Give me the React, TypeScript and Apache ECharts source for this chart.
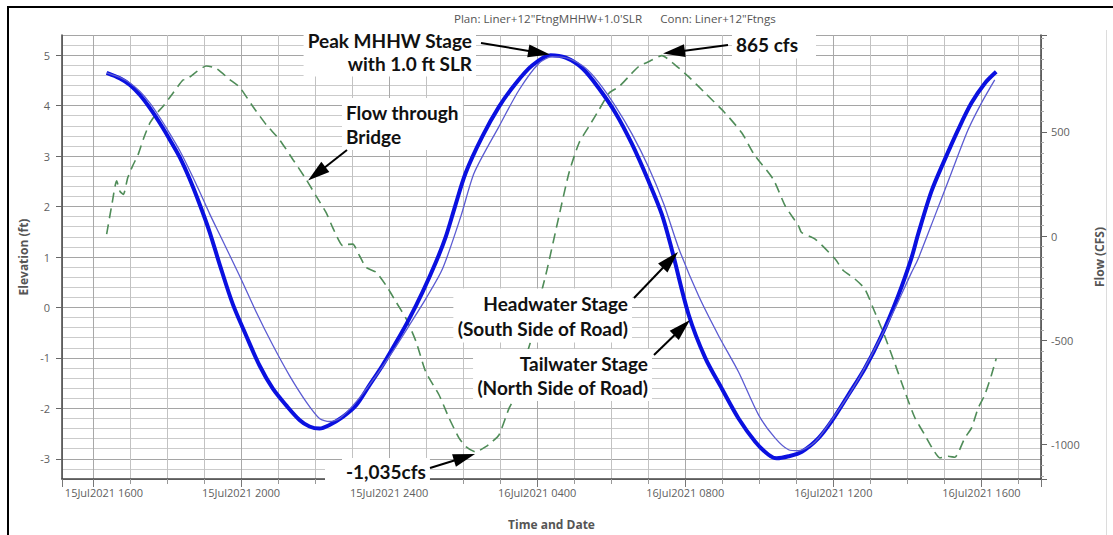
import React, { useEffect, useRef } from "react";
import * as echarts from "echarts";

// ---- Data (hours since 15Jul2021 00:00) ----
const timeTickHours = [16, 20, 24, 28, 32, 36, 40];
const timeTickLabels = [
  "15Jul2021 1600",
  "15Jul2021 2000",
  "15Jul2021 2400",
  "16Jul2021 0400",
  "16Jul2021 0800",
  "16Jul2021 1200",
  "16Jul2021 1600",
];
const elevationTicks = [-3, -2, -1, 0, 1, 2, 3, 4, 5];
const flowTicks = [-1000, -500, 0, 500];

// Tailwater stage (North side of road), ft
const tailwaterStage: [number, number][] = [
  [16.37, 4.65], [16.73, 4.54], [17.0, 4.41], [17.27, 4.21], [17.54, 3.95], [17.81, 3.65],
  [18.08, 3.32], [18.35, 2.97], [18.61, 2.55], [18.88, 2.05], [19.15, 1.5], [19.42, 0.86],
  [19.78, 0.06], [20.14, -0.56], [20.5, -1.15], [20.86, -1.61], [21.22, -1.94], [21.58, -2.23],
  [21.85, -2.36], [22.12, -2.4], [22.39, -2.33], [22.75, -2.17], [23.11, -1.94], [23.47, -1.54],
  [23.82, -1.15], [24.19, -0.69], [24.54, -0.23], [24.9, 0.3], [25.26, 0.89], [25.53, 1.4],
  [25.78, 2.0], [26.07, 2.67], [26.52, 3.39], [26.97, 3.98], [27.42, 4.44], [27.87, 4.8],
  [28.36, 5.0], [28.77, 4.95], [29.22, 4.74], [29.67, 4.34], [30.12, 3.85], [30.56, 3.24],
  [31.01, 2.5], [31.37, 1.84], [31.64, 1.14], [32.09, -0.14], [32.54, -1.0], [32.99, -1.61],
  [33.44, -2.2], [33.89, -2.66], [34.25, -2.92], [34.47, -2.99], [34.79, -2.95], [35.15, -2.86],
  [35.6, -2.59], [35.95, -2.26], [36.4, -1.74], [36.85, -1.21], [37.3, -0.56], [37.75, 0.23],
  [38.11, 0.98], [38.29, 1.45], [38.65, 2.3], [39.01, 2.93], [39.37, 3.52], [39.73, 4.05],
  [40.09, 4.44], [40.4, 4.67],
];

// Headwater stage (South side of road), ft
const headwaterStage: [number, number][] = [
  [16.37, 4.65], [16.73, 4.56], [17.0, 4.45], [17.27, 4.28], [17.54, 4.05], [17.81, 3.76],
  [18.08, 3.44], [18.35, 3.1], [18.61, 2.72], [18.88, 2.3], [19.15, 1.86], [19.42, 1.45],
  [19.96, 0.63], [20.41, -0.09], [20.86, -0.75], [21.31, -1.35], [21.76, -1.87], [22.12, -2.2],
  [22.39, -2.26], [22.66, -2.2], [23.11, -1.87], [23.65, -1.35], [24.09, -0.88], [24.54, -0.36],
  [24.99, 0.17], [25.44, 0.76], [25.94, 1.81], [26.3, 2.67], [26.97, 3.59], [27.51, 4.31],
  [28.05, 4.84], [28.41, 4.97], [28.86, 4.93], [29.31, 4.74], [29.67, 4.45], [30.12, 3.98],
  [30.56, 3.44], [31.01, 2.78], [31.42, 2.05], [31.82, 1.18], [32.36, 0.23], [32.9, -0.56],
  [33.44, -1.28], [33.98, -2.13], [34.43, -2.59], [34.79, -2.82], [35.06, -2.84], [35.51, -2.66],
  [36.05, -2.13], [36.58, -1.54], [37.12, -0.82], [37.66, -0.03], [38.11, 0.69], [38.29, 0.96],
  [38.74, 1.81], [39.19, 2.67], [39.64, 3.52], [40.0, 4.05], [40.36, 4.51],
];

// Flow through bridge, cfs
const bridgeFlow: [number, number][] = [
  [16.37, 10], [16.51, 150], [16.64, 265], [16.73, 215], [16.82, 200], [16.94, 280],
  [17.08, 340], [17.22, 391], [17.37, 470], [17.54, 543], [17.7, 585], [17.89, 622],
  [18.16, 686], [18.43, 749], [18.53, 752], [18.8, 789], [19.06, 816], [19.33, 805],
  [19.69, 752], [19.96, 715], [20.32, 622], [20.68, 535], [21.04, 463], [21.4, 368],
  [21.76, 272], [22.03, 192], [22.3, 113], [22.48, 40], [22.75, -46], [22.87, -40],
  [23.02, -38], [23.2, -94], [23.38, -150], [23.65, -173], [23.92, -237], [24.19, -316],
  [24.46, -396], [24.73, -507], [24.99, -651], [25.35, -762], [25.62, -873], [25.89, -969],
  [26.07, -1009], [26.34, -1035], [26.61, -1010], [26.79, -985], [26.97, -953], [27.24, -826],
  [27.42, -762], [27.6, -635], [27.87, -476], [28.05, -316], [28.27, -158], [28.59, 97],
  [28.86, 304], [29.13, 447], [29.4, 527], [29.67, 606], [29.94, 686], [30.21, 717],
  [30.47, 765], [30.74, 813], [31.1, 845], [31.37, 866], [31.73, 821], [32.09, 765],
  [32.54, 686], [33.08, 590], [33.53, 495], [33.85, 395], [34.38, 272], [34.7, 145],
  [35.06, 49], [35.14, 18], [35.51, -14], [36.05, -110], [36.27, -165], [36.58, -205],
  [36.85, -253], [37.12, -364], [37.39, -480], [37.66, -610], [37.93, -745], [38.2, -870],
  [38.47, -953], [38.7, -1025], [38.88, -1064], [39.1, -1056], [39.28, -1061], [39.55, -969],
  [39.73, -921], [39.91, -826], [40.09, -762], [40.27, -667], [40.4, -587],
];

const TICK_FONT = '"Open Sans", "Noto Sans", sans-serif';
const NOTE_FONT = 'bold 19px Lato, "Open Sans", sans-serif';

function arrow(x1: number, y1: number, x2: number, y2: number, headLen = 22, headW = 13) {
  const dx = x2 - x1;
  const dy = y2 - y1;
  const L = Math.hypot(dx, dy);
  const ux = dx / L;
  const uy = dy / L;
  const bx = x2 - ux * headLen;
  const by = y2 - uy * headLen;
  const px = -uy;
  const py = ux;
  return [
    {
      type: "line",
      z: 100,
      shape: { x1, y1, x2: bx + ux * 2, y2: by + uy * 2 },
      style: { stroke: "#000", lineWidth: 2 },
    },
    {
      type: "polygon",
      z: 100,
      shape: {
        points: [
          [x2, y2],
          [bx + (px * headW) / 2, by + (py * headW) / 2],
          [bx - (px * headW) / 2, by - (py * headW) / 2],
        ],
      },
      style: { fill: "#000" },
    },
  ];
}

function note(text: string, x: number, y: number, align: string, lineHeight = 24, pad: number[] = [2, 4]) {
  return {
    type: "text",
    z: 99,
    style: {
      text,
      x,
      y,
      font: NOTE_FONT,
      fill: "#111",
      textAlign: align,
      textVerticalAlign: "middle",
      lineHeight,
      backgroundColor: "#fff",
      padding: pad,
    },
  };
}

export default function App() {
  const ref = useRef<HTMLDivElement>(null);

  useEffect(() => {
    if (!ref.current) return;
    const chart = echarts.init(ref.current, undefined, { renderer: "svg" });

    const axisLabelBase = { color: "#5f5f5f", fontSize: 11, fontFamily: TICK_FONT };
    const axisNameBase = { color: "#555", fontSize: 12, fontWeight: "bold" as const, fontFamily: TICK_FONT };

    chart.setOption({
      animation: false,
      backgroundColor: "transparent",
      grid: { left: 62, right: 70, top: 35, bottom: 53, containLabel: false },
      xAxis: {
        type: "value",
        min: 15.164,
        max: 41.61,
        minInterval: 4,
        maxInterval: 4,
        axisLine: { show: true, onZero: false, lineStyle: { color: "#444", width: 1.5 } },
        axisTick: { show: true, length: 8, lineStyle: { color: "#777" } },
        minorTick: { show: true, splitNumber: 4, length: 5, lineStyle: { color: "#999" } },
        splitLine: { show: true, lineStyle: { color: "#a9a9a9", width: 1 } },
        minorSplitLine: { show: true, lineStyle: { color: "#c2c2c2", width: 1 } },
        axisLabel: {
          ...axisLabelBase,
          margin: 8,
          showMinLabel: false,
          showMaxLabel: false,
          rich: { first: { ...axisLabelBase, padding: [0, 0, 0, 22] } },
          formatter: (v: number) => {
            const i = timeTickHours.indexOf(Math.round(v * 1000) / 1000);
            if (i < 0) return "";
            return i === 0 ? `{first|${timeTickLabels[i]}}` : timeTickLabels[i];
          },
        },
        name: "Time and Date",
        nameLocation: "middle",
        nameGap: 39,
        nameTextStyle: axisNameBase,
      },
      yAxis: [
        {
          type: "value",
          position: "left",
          min: -3.4,
          max: 5.4,
          minInterval: 1,
          maxInterval: 1,
          axisLine: { show: true, lineStyle: { color: "#444", width: 1.5 } },
          axisTick: { show: true, length: 6, lineStyle: { color: "#666" } },
          minorTick: { show: false, splitNumber: 5 },
          splitLine: { show: true, lineStyle: { color: "#a5a5a5", width: 1 } },
          minorSplitLine: { show: true, lineStyle: { color: "#cbcbcb", width: 1 } },
          axisLabel: {
            ...axisLabelBase,
            margin: 12,
            showMinLabel: false,
            showMaxLabel: false,
            formatter: (v: number) => {
              const r = Math.round(v * 1000) / 1000;
              return elevationTicks.indexOf(r) >= 0 ? String(r) : "";
            },
          },
          name: "Elevation (ft)",
          nameLocation: "middle",
          nameRotate: 90,
          nameGap: 26,
          nameTextStyle: axisNameBase,
        },
        {
          type: "value",
          position: "right",
          min: -1165,
          max: 965,
          minInterval: 500,
          maxInterval: 500,
          axisLine: { show: true, lineStyle: { color: "#444", width: 1.5 } },
          axisTick: { show: true, length: 6, lineStyle: { color: "#666" } },
          minorTick: { show: true, splitNumber: 10, length: 3, lineStyle: { color: "#aaa" } },
          splitLine: { show: false },
          minorSplitLine: { show: false },
          axisLabel: {
            ...axisLabelBase,
            margin: 10,
            showMinLabel: false,
            showMaxLabel: false,
            formatter: (v: number) => {
              const r = Math.round(v);
              return flowTicks.indexOf(r) >= 0 ? String(r) : "";
            },
          },
          name: "Flow (CFS)",
          nameLocation: "middle",
          nameRotate: 90,
          nameGap: 52,
          nameTextStyle: axisNameBase,
        },
      ],
      series: [
        {
          name: "Tailwater Stage",
          type: "line",
          yAxisIndex: 0,
          data: tailwaterStage,
          symbol: "none",
          smooth: 0.3,
          lineStyle: { color: "#0a10e0", width: 4 },
          z: 3,
        },
        {
          name: "Headwater Stage",
          type: "line",
          yAxisIndex: 0,
          data: headwaterStage,
          symbol: "none",
          smooth: 0.25,
          lineStyle: { color: "#5b5bd2", width: 1.3 },
          z: 4,
        },
        {
          name: "Flow through Bridge",
          type: "line",
          yAxisIndex: 1,
          data: bridgeFlow,
          symbol: "none",
          smooth: 0.2,
          lineStyle: { color: "#4f8c58", width: 1.6, type: [10, 6] },
          z: 2,
        },
      ],
      graphic: [
        {
          type: "text",
          z: 50,
          style: {
            text: "Plan: Liner+12\"FtngMHHW+1.0'SLR",
            x: 548,
            y: 18,
            font: '11.6px "Open Sans", sans-serif',
            fill: "#555",
            textAlign: "center",
            textVerticalAlign: "middle",
          },
        },
        {
          type: "text",
          z: 50,
          style: {
            text: "Conn: Liner+12\"Ftngs",
            x: 718,
            y: 18,
            font: '11.6px "Open Sans", sans-serif',
            fill: "#555",
            textAlign: "center",
            textVerticalAlign: "middle",
          },
        },
        { type: "rect", z: 98, shape: { x: 325, y: 461, width: 102, height: 28 }, style: { fill: "#fff" } },
        note("Peak MHHW Stage\nwith 1.0 ft SLR", 476, 51.5, "right", 23),
        ...arrow(481, 43, 550, 54.5),
        note("865 cfs", 732, 44, "left", 23, [3, 18, 3, 4]),
        ...arrow(728, 45, 663, 53.5),
        note("Flow through\nBridge", 342, 124, "left", 24),
        ...arrow(347, 150, 308, 180.5),
        note("Headwater Stage\n(South Side of Road)", 632, 315.5, "right", 25),
        ...arrow(634, 298, 678, 252),
        note("Tailwater Stage\n(North Side of Road)", 652, 375, "right", 24),
        ...arrow(654, 355, 690, 320),
        note("-1,035cfs", 342, 471, "left", 22),
        ...arrow(430, 468, 475, 454),
      ],
    });

    return () => chart.dispose();
  }, []);

  return (
    <div
      style={{
        position: "fixed",
        left: 0,
        top: 0,
        width: 1113,
        height: 535,
        overflow: "hidden",
        background: "#fff",
      }}
    >
      <div
        style={{
          position: "absolute",
          left: 7,
          top: 6,
          width: 1300,
          height: 800,
          borderLeft: "2.5px solid #000",
          borderTop: "2.5px solid #000",
          boxSizing: "border-box",
        }}
      />
      <div
        style={{
          position: "absolute",
          left: 1106,
          top: 30,
          width: 1,
          height: 505,
          background: "#dcdcdc",
        }}
      />
      <div ref={ref} style={{ position: "absolute", left: 0, top: 0, width: 1113, height: 535 }} />
    </div>
  );
}
